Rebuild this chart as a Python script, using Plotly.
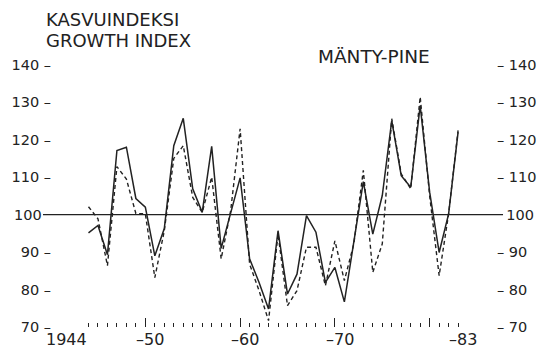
import plotly.graph_objects as go

years = list(range(1944, 1984))
solid_index = [95.1, 97.1, 89.3, 117.1, 118.0, 104.3, 102.0, 89.0, 96.3, 118.4,
               125.7, 106.9, 100.6, 118.2, 91.0, 100.3, 109.8, 88.2, 81.9, 74.8,
               95.7, 78.8, 84.1, 99.7, 95.3, 81.9, 85.9, 76.7, 92.2, 108.8,
               94.8, 105.1, 125.1, 110.4, 107.3, 129.1, 106.0, 89.9, 100.2, 122.0]
dashed_index = [102.1, 98.9, 86.4, 112.8, 109.5, 100.3, 100.2, 83.2, 95.7, 115.0,
                118.4, 104.6, 100.6, 110.0, 88.2, 101.0, 122.9, 86.8, 79.7, 71.7,
                94.8, 75.7, 79.7, 91.3, 91.3, 81.0, 93.0, 82.4, 92.2, 111.8,
                84.6, 92.2, 125.6, 110.9, 106.9, 131.4, 105.0, 83.7, 100.2, 122.5]

y_ticks = [70, 80, 90, 100, 110, 120, 130, 140]
y_left_text = ["70 –", "80 –", "90 –", "100\u00a0\u00a0", "110 –", "120 –", "130 –", "140 –"]
y_right_text = ["– 70", "– 80", "– 90", "\u00a0\u00a0100", "– 110", "– 120", "– 130", "– 140"]
x_major = [1950, 1960, 1970, 1980]
x_label_years = [1944, 1950, 1960, 1970, 1983]
x_label_text = ["1944", "–50", "–60", "–70", "–83"]

FONT = "DejaVu Sans"
INK = "#222222"

fig = go.Figure()
fig.add_trace(go.Scatter(x=years, y=dashed_index, mode="lines",
                         line=dict(color=INK, width=1.4, dash="4px,3px"),
                         showlegend=False))
fig.add_trace(go.Scatter(x=years, y=solid_index, mode="lines",
                         line=dict(color=INK, width=1.5),
                         showlegend=False))
# invisible trace for right axis
fig.add_trace(go.Scatter(x=[years[0]], y=[100], yaxis="y2", mode="markers",
                         marker=dict(opacity=0), showlegend=False, hoverinfo="skip"))

fig.add_shape(type="line", xref="paper", yref="y", x0=-0.0203, x1=1.0158,
              y0=100, y1=100, line=dict(color=INK, width=1.2))

for yr, txt in zip(x_label_years, x_label_text):
    fig.add_annotation(x=yr, y=70, xref="x", yref="y", text=txt, showarrow=False,
                       xanchor="right" if yr == 1944 else "center",
                       xshift=0 if yr == 1944 else 5,
                       yanchor="middle", yshift=-12, borderpad=0,
                       font=dict(family=FONT, size=16, color=INK))

fig.add_annotation(xref="paper", yref="paper", x=-0.016, y=1 + (61 - 19.7) / 266,
                   text="KASVUINDEKSI", showarrow=False, xanchor="left", yanchor="middle",
                   borderpad=0, font=dict(family=FONT, size=18, color=INK))
fig.add_annotation(xref="paper", yref="paper", x=-0.016, y=1 + (61 - 40.7) / 266,
                   text="GROWTH INDEX", showarrow=False, xanchor="left", yanchor="middle",
                   borderpad=0, font=dict(family=FONT, size=18, color=INK))
fig.add_annotation(xref="paper", yref="paper", x=(317 - 52) / 444, y=1 + (61 - 57) / 266,
                   text="MÄNTY-PINE", showarrow=False, xanchor="left", yanchor="middle",
                   borderpad=0, font=dict(family=FONT, size=18.5, color=INK))

fig.update_layout(
    width=540, height=341,
    margin=dict(l=44, r=52, t=53, b=22),
    paper_bgcolor="white", plot_bgcolor="white",
    showlegend=False,
    xaxis=dict(range=[1940.15, 1987.0], showgrid=False, zeroline=False, showline=False,
               automargin=False,
               tickmode="array", tickvals=x_major, ticks="inside", ticklen=9,
               tickwidth=1, tickcolor=INK, showticklabels=False,
               minor=dict(tickmode="array", tickvals=years, ticks="inside", ticklen=4,
                          tickwidth=1, tickcolor=INK, showgrid=False)),
    yaxis=dict(range=[70, 141], showgrid=False, zeroline=False, showline=False,
               automargin=False,
               tickmode="array", tickvals=y_ticks, ticktext=y_left_text, ticks="",
               tickfont=dict(family=FONT, size=14.5, color=INK)),
    yaxis2=dict(range=[70, 141], overlaying="y", side="right", showgrid=False,
                automargin=False,
                zeroline=False, showline=False, tickmode="array", tickvals=y_ticks,
                ticktext=y_right_text, ticks="",
                tickfont=dict(family=FONT, size=14.5, color=INK)),
)

fig.write_html("out.html")
